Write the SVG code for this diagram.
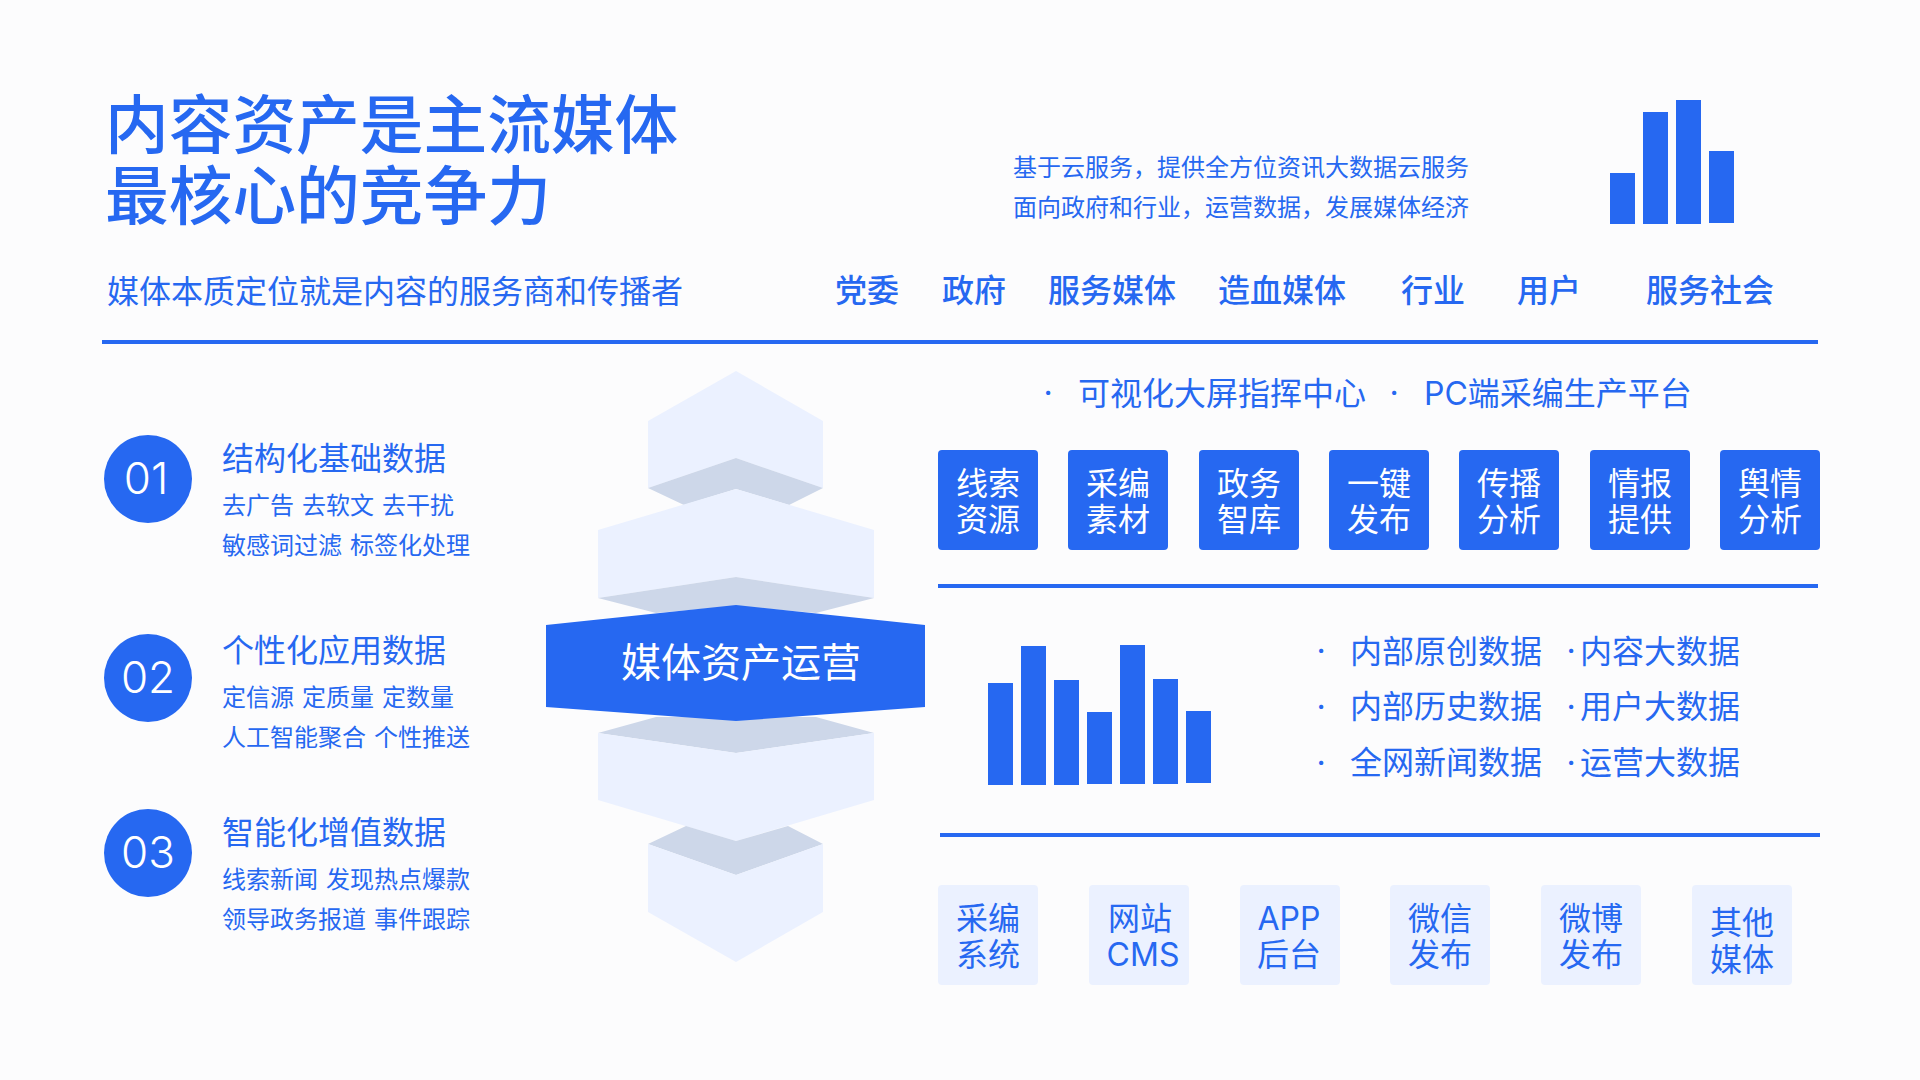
<svg xmlns="http://www.w3.org/2000/svg" width="1920" height="1080" viewBox="0 0 1920 1080">
<style>
text{font-family:"Inter","Noto Sans CJK SC",sans-serif;fill:#2668f1}
.title{font-size:63.7px;font-weight:500;font-family:"Noto Sans CJK SC",sans-serif}
.sub{font-size:32px}
.head{font-size:32px;font-weight:500}
.small{font-size:24px;word-spacing:1.2px}
.h{font-size:32px}
.dot{font-size:32px;text-anchor:middle}
.num{font-size:44px;fill:#fff;text-anchor:middle;font-weight:300}
.w{font-size:32px;fill:#fff;text-anchor:middle}
.b{font-size:32px;text-anchor:middle}
.center{font-size:40px;fill:#fff;text-anchor:middle}
.bar{fill:#2668f1}
.hex{fill:#ebf1ff}
.shade{fill:#cdd7e9}
.blue{fill:#2668f1}
.lb{fill:#ebf1ff}
</style>
<rect width="1920" height="1080" fill="#fcfcfd"/>
<g id="header">
<text class="title" x="105" y="148">内容资产是主流媒体</text>
<text class="title" x="105" y="219">最核心的竞争力</text>
<text class="sub" x="107" y="303">媒体本质定位就是内容的服务商和传播者</text>
<text class="small" x="1013" y="176">基于云服务，提供全方位资讯大数据云服务</text>
<text class="small" x="1013" y="216">面向政府和行业，运营数据，发展媒体经济</text>
<text class="head" x="835" y="302">党委</text>
<text class="head" x="942" y="302">政府</text>
<text class="head" x="1048" y="302">服务媒体</text>
<text class="head" x="1218" y="302">造血媒体</text>
<text class="head" x="1401" y="302">行业</text>
<text class="head" x="1517" y="302">用户</text>
<text class="head" x="1646" y="302">服务社会</text>
</g>
<g id="chart-top">
<rect class="bar" x="1610" y="173" width="25" height="51"/>
<rect class="bar" x="1643" y="112" width="25" height="112"/>
<rect class="bar" x="1676" y="100" width="25" height="124"/>
<rect class="bar" x="1709" y="151" width="25" height="72"/>
</g>
<g id="rules">
<rect class="bar" x="102" y="340" width="1716" height="4"/>
<rect class="bar" x="938" y="584" width="880" height="4"/>
<rect class="bar" x="940" y="833" width="880" height="4"/>
</g>
<g id="item-01">
<circle class="blue" cx="148" cy="479" r="44"/>
<text class="num" x="146" y="494">01</text>
<text class="h" x="222" y="470">结构化基础数据</text>
<text class="small" x="222" y="514">去广告 去软文 去干扰</text>
<text class="small" x="222" y="554">敏感词过滤 标签化处理</text>
</g>
<g id="item-02">
<circle class="blue" cx="148" cy="678" r="44"/>
<text class="num" x="148" y="693">02</text>
<text class="h" x="222" y="662">个性化应用数据</text>
<text class="small" x="222" y="706">定信源 定质量 定数量</text>
<text class="small" x="222" y="746">人工智能聚合 个性推送</text>
</g>
<g id="item-03">
<circle class="blue" cx="148" cy="853" r="44"/>
<text class="num" x="148" y="868">03</text>
<text class="h" x="222" y="844">智能化增值数据</text>
<text class="small" x="222" y="888">线索新闻 发现热点爆款</text>
<text class="small" x="222" y="928">领导政务报道 事件跟踪</text>
</g>
<g id="stack">
<polygon class="hex" points="736,371 823,421 823,488 736,458 648,488 648,421"/>
<polygon class="shade" points="648,488 736,458 823,488 789,505 736,489 684,505"/>
<polygon class="hex" points="736,489 874,530 874,598 736,577 598,598 598,530"/>
<polygon class="shade" points="598,598 736,577 874,598 816,613 736,606 656,613"/>
<polygon class="shade" points="598,733 736,753 874,733 816,717 656,717"/>
<polygon class="hex" points="598,733 736,753 874,733 874,800 736,841 598,800"/>
<polygon class="shade" points="648,844 736,875 823,844 788,826 736,841 686,826"/>
<polygon class="hex" points="648,844 736,875 823,844 823,912 736,962 648,912"/>
<polygon class="blue" points="736,605 925,625 925,707 736,721 546,707 546,625"/>
<text class="center" x="741" y="677">媒体资产运营</text>
</g>
<g id="list-top">
<text class="dot" x="1048" y="404">·</text>
<text class="h" x="1078" y="405">可视化大屏指挥中心</text>
<text class="dot" x="1394" y="404">·</text>
<text class="h" x="1424" y="405">PC端采编生产平台</text>
</g>
<g id="tile-1"><rect class="blue" x="938" y="450" width="100" height="100" rx="4"/><text class="w" x="988" y="495">线索</text><text class="w" x="988" y="531">资源</text></g>
<g id="tile-2"><rect class="blue" x="1068" y="450" width="100" height="100" rx="4"/><text class="w" x="1118" y="495">采编</text><text class="w" x="1118" y="531">素材</text></g>
<g id="tile-3"><rect class="blue" x="1199" y="450" width="100" height="100" rx="4"/><text class="w" x="1249" y="495">政务</text><text class="w" x="1249" y="531">智库</text></g>
<g id="tile-4"><rect class="blue" x="1329" y="450" width="100" height="100" rx="4"/><text class="w" x="1379" y="495">一键</text><text class="w" x="1379" y="531">发布</text></g>
<g id="tile-5"><rect class="blue" x="1459" y="450" width="100" height="100" rx="4"/><text class="w" x="1509" y="495">传播</text><text class="w" x="1509" y="531">分析</text></g>
<g id="tile-6"><rect class="blue" x="1590" y="450" width="100" height="100" rx="4"/><text class="w" x="1640" y="495">情报</text><text class="w" x="1640" y="531">提供</text></g>
<g id="tile-7"><rect class="blue" x="1720" y="450" width="100" height="100" rx="4"/><text class="w" x="1770" y="495">舆情</text><text class="w" x="1770" y="531">分析</text></g>
<g id="chart-mid">
<rect class="bar" x="988" y="683" width="25" height="102"/>
<rect class="bar" x="1021" y="646" width="25" height="139"/>
<rect class="bar" x="1054" y="680" width="25" height="105"/>
<rect class="bar" x="1087" y="712" width="25" height="72"/>
<rect class="bar" x="1120" y="645" width="25" height="139"/>
<rect class="bar" x="1153" y="679" width="25" height="105"/>
<rect class="bar" x="1186" y="711" width="25" height="72"/>
</g>
<g id="list-mid">
<text class="dot" x="1321" y="662">·</text><text class="h" x="1350" y="663">内部原创数据</text>
<text class="dot" x="1571" y="662">·</text><text class="h" x="1580" y="663">内容大数据</text>
<text class="dot" x="1321" y="718">·</text><text class="h" x="1350" y="718">内部历史数据</text>
<text class="dot" x="1571" y="718">·</text><text class="h" x="1580" y="718">用户大数据</text>
<text class="dot" x="1321" y="774">·</text><text class="h" x="1350" y="774">全网新闻数据</text>
<text class="dot" x="1571" y="774">·</text><text class="h" x="1580" y="774">运营大数据</text>
</g>
<g id="out-1"><rect class="lb" x="938" y="885" width="100" height="100" rx="4"/><text class="b" x="988" y="930">采编</text><text class="b" x="988" y="966">系统</text></g>
<g id="out-2"><rect class="lb" x="1089" y="885" width="100" height="100" rx="4"/><text class="b" x="1140" y="930">网站</text><text class="b" x="1143" y="966">CMS</text></g>
<g id="out-3"><rect class="lb" x="1240" y="885" width="100" height="100" rx="4"/><text class="b" x="1289" y="930">APP</text><text class="b" x="1289" y="966">后台</text></g>
<g id="out-4"><rect class="lb" x="1390" y="885" width="100" height="100" rx="4"/><text class="b" x="1440" y="930">微信</text><text class="b" x="1440" y="966">发布</text></g>
<g id="out-5"><rect class="lb" x="1541" y="885" width="100" height="100" rx="4"/><text class="b" x="1591" y="930">微博</text><text class="b" x="1591" y="966">发布</text></g>
<g id="out-6"><rect class="lb" x="1692" y="885" width="100" height="100" rx="4"/><text class="b" x="1742" y="934">其他</text><text class="b" x="1742" y="971">媒体</text></g>
</svg>
